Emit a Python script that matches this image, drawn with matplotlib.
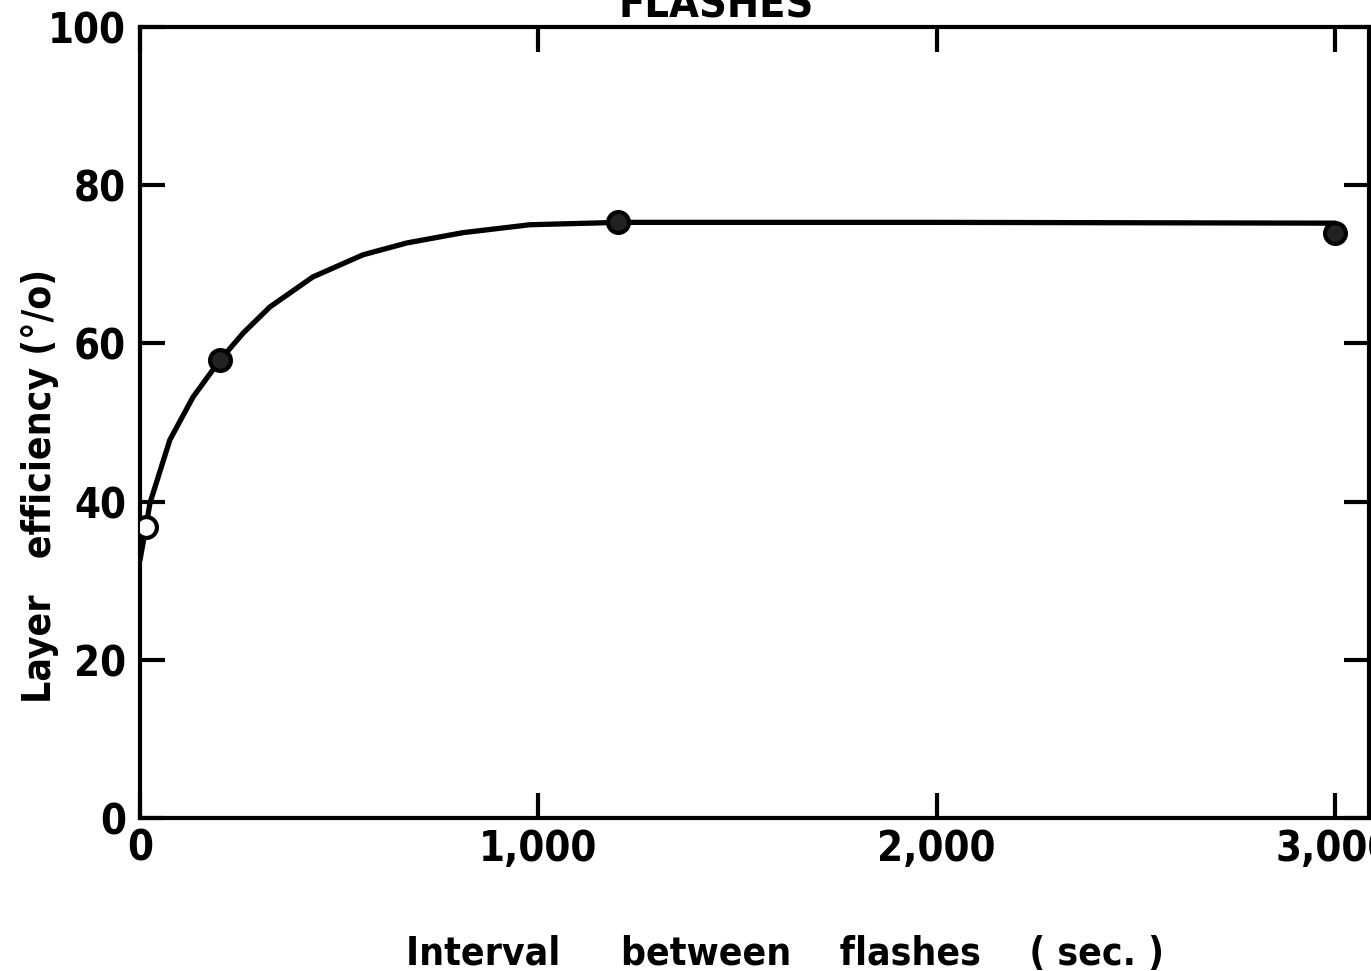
import matplotlib
matplotlib.use("Agg")
import matplotlib.pyplot as plt
from matplotlib import font_manager

# the scan uses a bold condensed lettering; look for a narrow bold face
narrow_files = [f for f in font_manager.fontManager.ttflist
                if 'Narrow' in f.name or 'Condensed' in f.name
                or f.stretch in ('condensed', 'semi-condensed')]
bold = [f for f in narrow_files if f.weight in ('bold', 700, 600, 'semibold', 'demibold')]
pick = bold[0] if bold else (narrow_files[0] if narrow_files else None)


def font(size):
    if pick is not None:
        return font_manager.FontProperties(fname=pick.fname, size=size)
    return font_manager.FontProperties(family='DejaVu Sans', weight='bold',
                                       size=size * 0.85)


# measured points
interval = [15, 200, 1200, 3000]
efficiency = [36.8, 57.9, 75.3, 74.0]
open_marker = [True, False, False, False]

# hand drawn curve
curve_x = [0, 15, 25, 75, 133, 201, 259, 326, 434, 560, 670, 811, 979, 1202, 2000, 3000]
curve_y = [32.6, 36.8, 39.8, 47.8, 53.2, 57.9, 61.3, 64.6, 68.4, 71.2, 72.7, 74.0, 75.0, 75.3, 75.3, 75.2]

xticks = [0, 1000, 2000, 3000]
xtick_labels = ['0', '1,000', '2,000', '3,000']
yticks = [0, 20, 40, 60, 80, 100]

fig = plt.figure(figsize=(13.71, 9.71), dpi=100)
ax = fig.add_axes([0.1021, 0.1576, 0.8964, 0.8146])

ax.plot(curve_x, curve_y, color='black', lw=3.8, solid_capstyle='round', zorder=3)
for x, y, o in zip(interval, efficiency, open_marker):
    ax.plot(x, y, 'o', ms=15, mec='black', mew=3,
            mfc='white' if o else '#222222', zorder=4)

ax.set_xlim(0, 3085)
ax.set_ylim(0, 100)
ax.set_xticks(xticks)
ax.set_xticklabels(xtick_labels)
ax.set_yticks(yticks)
ax.tick_params(direction='in', length=18, width=3, top=True, right=True)
ax.tick_params(axis='x', pad=7)
ax.tick_params(axis='y', pad=10)
for lab in ax.get_xticklabels() + ax.get_yticklabels():
    lab.set_fontproperties(font(30))
for s in ax.spines.values():
    s.set_linewidth(3)

fig.text(0.5726, 1 - 965 / 971, 'Interval     between    flashes    ( sec. )',
         ha='center', va='baseline', fontproperties=font(28))
fig.text(40 / 1371, 1 - 486 / 971, 'Layer   efficiency (°/o)', rotation=90,
         ha='center', va='center', fontproperties=font(28))
fig.text(716 / 1371, 1 - 18 / 971, 'FLASHES', ha='center', va='baseline',
         fontproperties=font(31))

fig.savefig('out.png', dpi=100)
